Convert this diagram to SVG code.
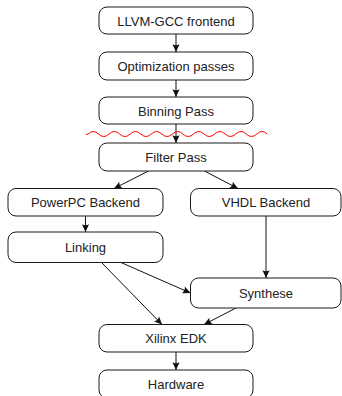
<svg xmlns="http://www.w3.org/2000/svg" width="342" height="396" viewBox="0 0 342 396">
<style>
.box{fill:#fff;stroke:#1a1a1a;stroke-width:1}
.lbl{font-family:"Liberation Sans",Arial,sans-serif;font-size:13px;fill:#222;text-anchor:middle}
.edge{fill:none;stroke:#111;stroke-width:1;marker-end:url(#arr)}
.wave{fill:none;stroke:#f00;stroke-width:1}
</style>
<defs>
<marker id="arr" markerUnits="userSpaceOnUse" markerWidth="10" markerHeight="10" viewBox="-8 -4 9 8" refX="0" refY="0" orient="auto">
<path d="M0,0 L-7,-3.2 Q-5,0 -7,3.2 Z" fill="#111"/>
</marker>
</defs>
<g id="connectors">
<line class="edge" x1="176" y1="34" x2="176" y2="52"/>
<line class="edge" x1="176" y1="80" x2="176" y2="97"/>
<line class="edge" x1="176" y1="124" x2="176" y2="143"/>
<line class="edge" x1="148.5" y1="171" x2="114" y2="188.5"/>
<line class="edge" x1="204.5" y1="171" x2="238" y2="188.5"/>
<line class="edge" x1="85.5" y1="216" x2="85.5" y2="232"/>
<line class="edge" x1="266" y1="216" x2="266" y2="278"/>
<line class="edge" x1="121" y1="262.5" x2="190.5" y2="293"/>
<line class="edge" x1="101.5" y1="262.5" x2="162" y2="324.5"/>
<line class="edge" x1="236" y1="308" x2="204" y2="324.5"/>
<line class="edge" x1="176" y1="352" x2="176" y2="370"/>
</g>
<path id="cut" class="wave" d="M86,134.5 L88,134 Q93.28,129 98.55,134 T109.1,134 T119.65,134 T130.2,134 T140.75,134 T151.3,134 T161.85,134 T172.4,134 T182.95,134 T193.5,134 T204.05,134 T214.6,134 T225.15,134 T235.7,134 T246.25,134 T256.8,134 T267.35,134"/>
<g id="llvm"><rect class="box" x="99" y="7" width="154" height="27" rx="8"/><text class="lbl" x="176" y="25.8">LLVM-GCC frontend</text></g>
<g id="opt"><rect class="box" x="99" y="52" width="154" height="28" rx="8"/><text class="lbl" x="176" y="70.5">Optimization passes</text></g>
<g id="binning"><rect class="box" x="99" y="97" width="154" height="27" rx="8"/><text class="lbl" x="176" y="115.5">Binning Pass</text></g>
<g id="filter"><rect class="box" x="99" y="143" width="154" height="28" rx="8"/><text class="lbl" x="176" y="162">Filter Pass</text></g>
<g id="powerpc"><rect class="box" x="8" y="188.5" width="155" height="27.5" rx="8"/><text class="lbl" x="85.5" y="207">PowerPC Backend</text></g>
<g id="vhdl"><rect class="box" x="190.5" y="188.5" width="150.5" height="27.5" rx="8"/><text class="lbl" x="266" y="207">VHDL Backend</text></g>
<g id="linking"><rect class="box" x="8" y="232" width="155" height="30.5" rx="8"/><text class="lbl" x="85.5" y="251.8">Linking</text></g>
<g id="synthese"><rect class="box" x="190.5" y="278" width="150.5" height="30" rx="8"/><text class="lbl" x="266" y="297.5">Synthese</text></g>
<g id="xilinx"><rect class="box" x="99" y="324.5" width="154" height="27.5" rx="8"/><text class="lbl" x="176" y="343">Xilinx EDK</text></g>
<g id="hardware"><rect class="box" x="99" y="370" width="154" height="28" rx="8"/><text class="lbl" x="176" y="389.3">Hardware</text></g>
</svg>
